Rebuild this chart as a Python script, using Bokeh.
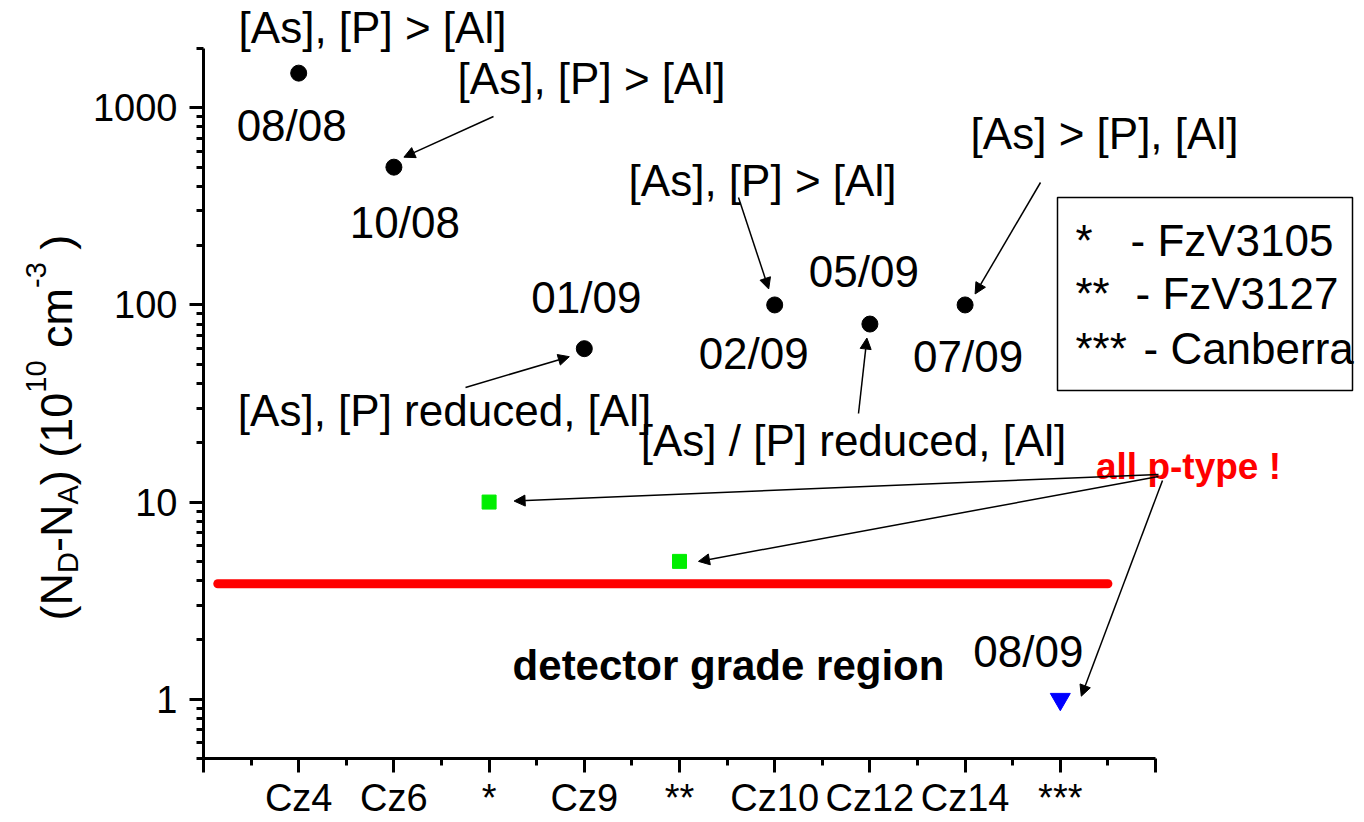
import math
from bokeh.plotting import figure
from bokeh.models import (Range1d, FixedTicker, Label, Arrow, NormalHead,
                          PolyAnnotation, BasicTickFormatter)
from bokeh.embed import file_html
from bokeh.resources import INLINE

# ---------------- data ----------------
tick_x = [1, 2, 3, 4, 5, 6, 7, 8, 9]
tick_labels = ["Cz4", "Cz6", "*", "Cz9", "**", "Cz10", "Cz12", "Cz14", "***"]

ntype_x = [1, 2, 4, 6, 7, 8]
ntype_y = [1500, 500, 60, 100, 80, 100]
ntype_dates = ["08/08", "10/08", "01/09", "02/09", "05/09", "07/09"]

fz_x = [3, 5]
fz_y = [10, 5]

canberra_x = [9]
canberra_y = [1]
canberra_dates = ["08/09"]

limit_x = [0.15, 9.5]
limit_y = [3.85, 3.85]

legend_keys = ["*", "**", "***"]
legend_names = ["- FzV3105", "- FzV3127", "- Canberra"]

# ---------------- geometry ----------------
W, H = 1364, 822
L, R, T, B = 203, 1155, 48, 758        # pixel box of the axes
X0, X1 = 0, 10                          # x extent of the axes
Y0, Y1 = 0.5, 2000                      # y extent of the axes
LG0, LG1 = math.log10(Y0), math.log10(Y1)


def sx(x):
    return L + (x - X0) / (X1 - X0) * (R - L)


def sy(y):
    return T + (LG1 - math.log10(y)) / (LG1 - LG0) * (B - T)


def dx(px):
    return X0 + (px - L) / (R - L) * (X1 - X0)


def dy(py):
    return 10 ** (LG1 - (py - T) / (B - T) * (LG1 - LG0))


FONT = "Liberation Sans"

# the frame spans the whole canvas so that annotations outside the axes box show
p = figure(width=W, height=H, x_range=Range1d(dx(0), dx(W)), y_range=Range1d(dy(H), dy(0)),
           y_axis_type="log", output_backend="svg", toolbar_location=None,
           min_border=0, min_border_left=0, min_border_right=0,
           min_border_top=0, min_border_bottom=0)
p.outline_line_color = None
p.grid.visible = False
p.background_fill_color = "white"
p.border_fill_color = "white"

# axes
xa = p.xaxis[0]
xa.fixed_location = Y0
xa.bounds = (X0, X1)
xa.ticker = FixedTicker(ticks=list(range(0, 11)), minor_ticks=[i + 0.5 for i in range(10)])
overrides = {0: "", 10: ""}
for tx, tl in zip(tick_x, tick_labels):
    overrides[tx] = tl
xa.major_label_overrides = overrides

ya = p.yaxis[0]
ya.fixed_location = X0
ya.bounds = (Y0, Y1)
minor = []
for e in range(-1, 4):
    for m in range(1, 10):
        v = m * 10 ** e
        if Y0 <= v <= Y1:
            minor.append(v)
ya.ticker = FixedTicker(ticks=[1, 10, 100, 1000], minor_ticks=minor)
ya.formatter = BasicTickFormatter(use_scientific=False)

for ax in (xa, ya):
    ax.axis_line_width = 3
    ax.axis_line_color = "black"
    ax.major_tick_line_width = 3
    ax.minor_tick_line_width = 3
    ax.major_tick_in = 0
    ax.minor_tick_in = 0
    ax.major_tick_out = 14
    ax.minor_tick_out = 7
    ax.major_label_text_font = FONT
    ax.major_label_text_font_size = "38px"
    ax.major_label_text_color = "black"
xa.major_label_standoff = 4
ya.major_label_standoff = 12

# threshold line
p.line(limit_x, limit_y, line_width=9, line_color="#ff0000", line_cap="round")

# markers
p.scatter(ntype_x, ntype_y, marker="circle", size=16, color="black")
p.scatter(fz_x, fz_y, marker="square", size=14, color="#00ee00")
p.scatter(canberra_x, canberra_y, marker="inverted_triangle", size=20, color="#0000ff")


def add_text(text, px, py, size="44px", align="center", baseline="middle",
             color="black", style="normal", angle=0.0):
    p.add_layout(Label(x=dx(px), y=dy(py), text=text, text_font=FONT,
                       text_font_size=size, text_align=align,
                       text_baseline=baseline, text_color=color,
                       text_font_style=style, angle=angle))


# date labels next to markers (pixel offsets from the marker)
date_offsets = [(-7, 52), (11, 55), (2, -51), (-21, 49), (-6, -53), (3, 52)]
for x, y, t, (ox, oy) in zip(ntype_x, ntype_y, ntype_dates, date_offsets):
    add_text(t, sx(x) + ox, sy(y) + oy)
for x, y, t in zip(canberra_x, canberra_y, canberra_dates):
    add_text(t, sx(x) - 32, sy(y) - 48)

# callout texts
callouts = [
    ("[As], [P] > [Al]", 372, 27),
    ("[As], [P] > [Al]", 591, 78),
    ("[As], [P] > [Al]", 762, 180),
    ("[As] > [P], [Al]", 1104, 133),
    ("[As], [P] reduced, [Al]", 444, 410),
    ("[As] / [P] reduced, [Al]", 853, 440),
]
for t, px, py in callouts:
    add_text(t, px, py)

add_text("all p-type !", 1188, 466, size="37px", color="#ff0000", style="bold")
add_text("detector grade region", 728, 665, size="42px", style="bold")

# arrows: start (pixels) -> marker (+ pixel offset)
arrow_specs = [
    ((493, 116), (ntype_x[1], ntype_y[1]), (10, -10)),
    ((738, 197), (ntype_x[3], ntype_y[3]), (-6, -16)),
    ((1040, 182), (ntype_x[5], ntype_y[5]), (10, -11)),
    ((465, 387), (ntype_x[2], ntype_y[2]), (-15, 8)),
    ((858, 413), (ntype_x[4], ntype_y[4]), (-3, 14)),
    ((1158, 474), (fz_x[0], fz_y[0]), (25, -1)),
    ((1158, 476), (fz_x[1], fz_y[1]), (19, 0)),
    ((1162, 480), (canberra_x[0], canberra_y[0]), (21, -3)),
]
for (spx, spy), (mx, my), (ox, oy) in arrow_specs:
    p.add_layout(Arrow(x_start=dx(spx), y_start=dy(spy),
                       x_end=dx(sx(mx) + ox), y_end=dy(sy(my) + oy),
                       line_width=1.5, line_color="black",
                       end=NormalHead(size=11, line_color="black", line_width=1,
                                      fill_color="black")))

# legend box
bx0, by0, bx1, by1 = 1057, 197, 1352, 390
p.add_layout(PolyAnnotation(xs=[dx(bx0), dx(bx1), dx(bx1), dx(bx0)],
                            ys=[dy(by0), dy(by0), dy(by1), dy(by1)],
                            fill_color=None, fill_alpha=0, line_color="black",
                            line_alpha=1.0, line_width=1.5))
leg_rows = [240, 293, 348]
leg_name_x = [1130, 1135, 1143]
for k, n, ry, nx in zip(legend_keys, legend_names, leg_rows, leg_name_x):
    add_text(k, 1075, ry, align="left")
    add_text(n, nx, ry, align="left")

# rotated y-axis title built from pieces (sub/superscripts); spaces as gaps
widths = {"(": 0.333, ")": 0.333, "N": 0.722, "D": 0.722, "A": 0.667, "-": 0.333,
          "1": 0.556, "0": 0.556, "3": 0.556, "c": 0.5, "m": 0.833, " ": 0.278}
pieces = [("(N", "main"), ("D", "sub"), ("-N", "main"), ("A", "sub"), (")", "main"),
          (" ", "gap"), ("(10", "main"), ("10", "sup"), (" ", "gap"), ("cm", "main"),
          ("-3", "sup"), (" ", "gap"), (")", "main")]
base_x = {"main": 56, "sub": 67, "sup": 35}
sizes = {"main": 45, "sub": 29, "sup": 29, "gap": 45}
cur = 620
for txt, kind in pieces:
    fs = sizes[kind]
    wpx = sum(widths[c] for c in txt) * fs
    if kind != "gap":
        add_text(txt, base_x[kind], cur, size="%dpx" % fs, align="left",
                 baseline="alphabetic", angle=math.pi / 2)
    cur -= wpx

open("out.html", "w").write(file_html(p, INLINE))
